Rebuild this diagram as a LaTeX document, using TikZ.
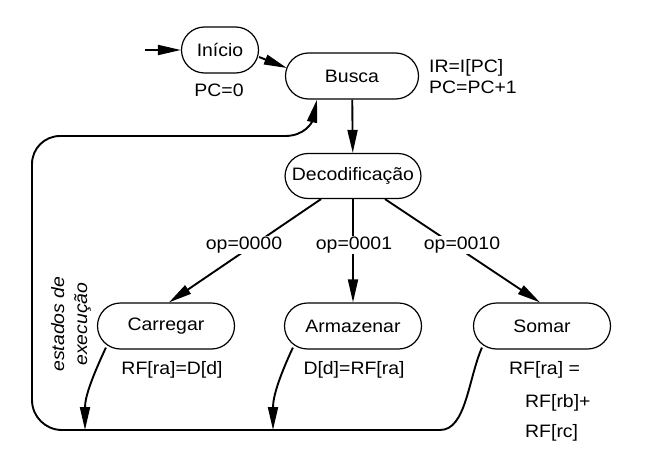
\documentclass[tikz,border=0pt]{standalone}
\usepackage{fontspec}
\setmainfont{Liberation Sans}[FakeStretch=1.08]
\usetikzlibrary{arrows.meta}
\usetikzlibrary{positioning}

\begin{document}
\begin{tikzpicture}[x=1pt, y=1pt,
  every node/.style={font=\fontsize{18}{21}\selectfont, inner sep=0pt},
  estado/.style={rectangle, rounded corners=23pt, minimum height=46pt, line width=1.2pt, draw=black},
  seta/.style={line width=1.9pt, color=black, -{Triangle[length=23pt, width=10pt]}},
  rotulo/.style={fill=white, inner sep=1pt}]
\useasboundingbox (0pt,0pt) rectangle (653pt,-460pt);
\node (inicio) [estado, minimum width=77pt] at (220pt, -50pt) {Início};
\node (busca) [estado, minimum width=133pt] at (352pt, -76pt) {Busca};
\node (decod) [estado, minimum width=136pt, minimum height=45pt] at (353pt, -176pt) {Decodificação};
\node (carregar) [estado, minimum width=137pt] at (166pt, -326pt) {Carregar};
\node (armazenar) [estado, minimum width=137pt] at (353pt, -326pt) {Armazenar};
\node (somar) [estado, minimum width=137pt] at (542pt, -326pt) {Somar};
\node (pc0) at (219pt, -90pt) {PC=0};
\node (buscaacao) [anchor=west, align=left] at (429pt, -77pt) {IR=I[PC]\\PC=PC+1};
\node (carregaracao) at (172pt, -370pt) {RF[ra]=D[d]};
\node (armazenaracao) at (354pt, -370pt) {D[d]=RF[ra]};
\node (somaracao1) [anchor=west] at (509pt, -370pt) {RF[ra] =};
\node (somaracao2) [anchor=west] at (525pt, -403pt) {RF[rb]+};
\node (somaracao3) [anchor=west] at (525pt, -433pt) {RF[rc]};
\node (execucao) [rotate=90, align=center, font=\fontsize{18}{23}\selectfont\itshape] at (71pt, -324pt) {estados de\\execução};
\coordinate (entrada) at (145pt, -50pt);
\coordinate (volta1) at (85pt, -430pt);
\coordinate (volta2) at (273pt, -430pt);
\draw [seta] (entrada) to (inicio.west);
\draw [seta] ([yshift=-7pt]inicio.east) to ([xshift=2pt, yshift=8pt]busca.west);
\draw [seta] (busca) to (decod);
\draw [seta] ([xshift=-32pt]decod.south) to ([xshift=3pt]carregar.north);
\draw [seta] (decod) to (armazenar);
\draw [seta] ([xshift=32pt]decod.south) to ([xshift=-2pt]somar.north);
\node (op1) [rotulo] at (244pt, -245pt) {op=0000};
\node (op2) [rotulo] at (354pt, -245pt) {op=0001};
\node (op3) [rotulo] at (462pt, -245pt) {op=0010};
\draw [seta] ([xshift=9pt, yshift=2pt]carregar.south west) to [out=245, in=90] (volta1);
\draw [seta] ([xshift=9pt, yshift=2pt]armazenar.south west) to [out=245, in=90] (volta2);
% laco de volta para a busca
\draw [seta] ([xshift=9pt, yshift=2pt]somar.south west) .. controls (468pt, -380pt) and (466pt, -430pt) .. (440pt, -430pt)
  -- (62pt, -430pt) arc [start angle=270, end angle=180, radius=30pt] -- (32pt, -164pt)
  arc [start angle=180, end angle=90, radius=28pt] -- (285pt, -136pt)
  .. controls (305pt, -136pt) and (312pt, -122pt) .. ([xshift=-35pt]busca.south);
\end{tikzpicture}
\end{document}
